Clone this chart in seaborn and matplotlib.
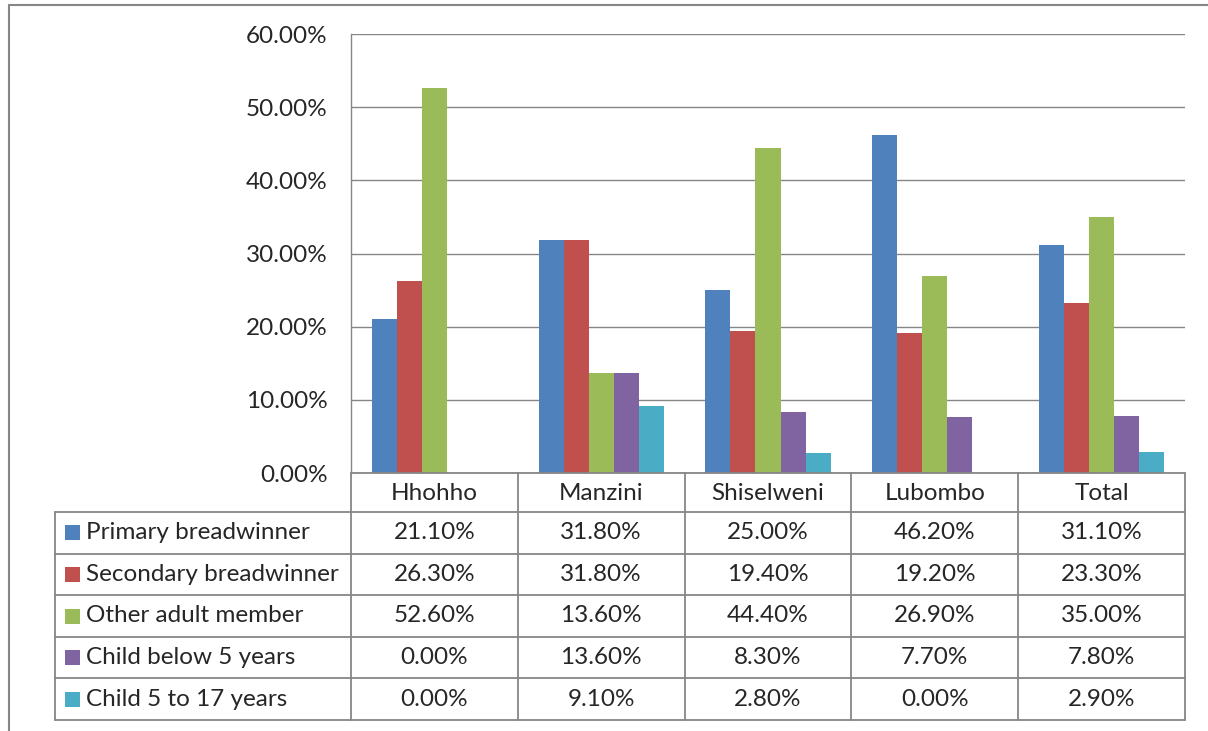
import matplotlib.pyplot as plt
import matplotlib.lines as mlines
import matplotlib.patches as mpatches
import pandas as pd
import seaborn as sns

categories = ['Hhohho', 'Manzini', 'Shiselweni', 'Lubombo', 'Total']
series_names = ['Primary breadwinner', 'Secondary breadwinner', 'Other adult member',
                'Child below 5 years', 'Child 5 to 17 years']
primary = [21.1, 31.8, 25.0, 46.2, 31.1]
secondary = [26.3, 31.8, 19.4, 19.2, 23.3]
other_adult = [52.6, 13.6, 44.4, 26.9, 35.0]
child_below5 = [0.0, 13.6, 8.3, 7.7, 7.8]
child_5to17 = [0.0, 9.1, 2.8, 0.0, 2.9]
yticks = [0, 10, 20, 30, 40, 50, 60]

colors = ['#4F81BD', '#C0504D', '#9BBB59', '#8064A2', '#4BACC6']
grid_col = '#868686'
fsize = 17.5

values = [primary, secondary, other_adult, child_below5, child_5to17]
rows = []
for name, vals in zip(series_names, values):
    for cat, v in zip(categories, vals):
        rows.append({'Region': cat, 'Member': name, 'Pct': v})
df = pd.DataFrame(rows)

sns.set_style('white')
plt.rcParams['font.family'] = ['Lato', 'DejaVu Sans']

W, H = 1208, 731
fig = plt.figure(figsize=(W / 100, H / 100), dpi=100)
L, R, T, B = 351, 1185, 34, 473
ax = fig.add_axes([L / W, 1 - B / H, (R - L) / W, (B - T) / H])

sns.barplot(data=df, x='Region', y='Pct', hue='Member', palette=colors,
            width=0.75, gap=0, ax=ax, legend=False, saturation=1)
for p in ax.patches:
    p.set_edgecolor('none')

ax.set_ylim(0, 60)
ax.set_xlim(-0.5, len(categories) - 0.5)
ax.set_yticks(yticks)
ax.set_yticklabels([f'{t:.2f}%' for t in yticks], fontsize=fsize)
ax.set_xticks([])
ax.set_xlabel('')
ax.set_ylabel('')
ax.tick_params(axis='y', length=0, pad=17)
for t in yticks:
    ax.axhline(t, color=grid_col, lw=1, zorder=0)
for s in ['top', 'right', 'bottom']:
    ax.spines[s].set_visible(False)
ax.spines['left'].set_color(grid_col)
ax.spines['left'].set_linewidth(1)

# data table below the plot (axes-fraction coords)
pw = R - L
ph = B - T
def fx(px):
    return (px - L) / pw
def fy(py):
    return (B - py) / ph

tr = ax.transAxes
hdr_bot = 512
row_h = 41.6
n = len(series_names)
table_left = 55
bottom = hdr_bot + row_h * n
col_edges = [L + i * pw / len(categories) for i in range(len(categories) + 1)]

def line(x0, y0, x1, y1):
    ax.add_line(mlines.Line2D([fx(x0), fx(x1)], [fy(y0), fy(y1)], transform=tr,
                              color=grid_col, lw=1.3, clip_on=False))

# header row
for i, cat in enumerate(categories):
    xc = (col_edges[i] + col_edges[i + 1]) / 2
    ax.text(fx(xc), fy((B + hdr_bot) / 2 + 1), cat, transform=tr, ha='center', va='center',
            fontsize=fsize)
for xe in col_edges:
    line(xe, B, xe, bottom)
line(L, B, R, B)
line(table_left, hdr_bot, R, hdr_bot)
line(table_left, hdr_bot, table_left, bottom)
for j, (name, vals) in enumerate(zip(series_names, values)):
    y0 = hdr_bot + j * row_h
    y1 = y0 + row_h
    yc = (y0 + y1) / 2
    line(table_left, y1, R, y1)
    ax.add_patch(mpatches.Rectangle((fx(65), fy(yc + 7.5)), 15 / pw, 15 / ph, transform=tr,
                                    facecolor=colors[j], edgecolor='none', clip_on=False))
    ax.text(fx(86), fy(yc), name, transform=tr, ha='left', va='center', fontsize=fsize)
    for i, v in enumerate(vals):
        xc = (col_edges[i] + col_edges[i + 1]) / 2
        ax.text(fx(xc), fy(yc), f'{v:.2f}%', transform=tr, ha='center', va='center',
                fontsize=fsize)

# outer chart frame (partly cropped)
fig.add_artist(mlines.Line2D([9 / W, 9 / W], [0, 1 - 5 / H], transform=fig.transFigure,
                             color=grid_col, lw=1.5))
fig.add_artist(mlines.Line2D([9 / W, 1], [1 - 5 / H, 1 - 5 / H], transform=fig.transFigure,
                             color=grid_col, lw=1.5))

fig.savefig('out.png', dpi=100)
